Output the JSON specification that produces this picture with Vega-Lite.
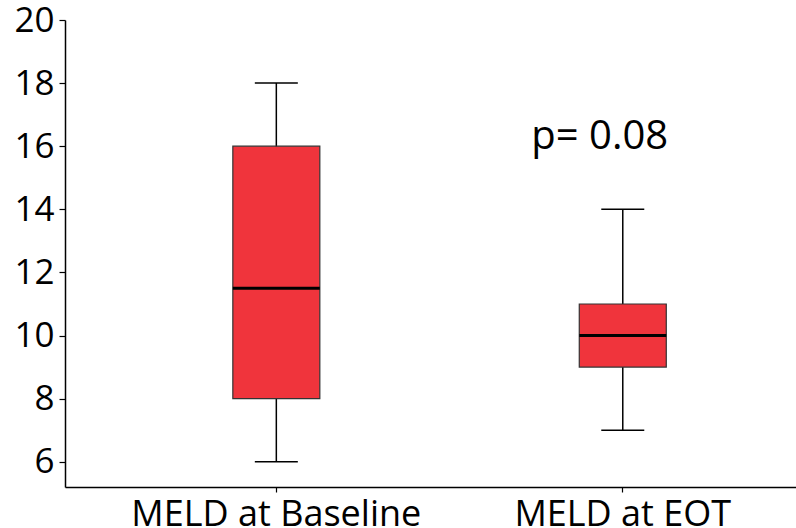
{
  "$schema": "https://vega.github.io/schema/vega-lite/v6.json",
  "width": 731,
  "height": 467,
  "autosize": {"type": "none"},
  "padding": {"left": 65, "top": 20, "right": 0, "bottom": 41},
  "background": "white",
  "config": {
    "view": {"stroke": null},
    "font": "Open Sans",
    "axis": {"grid": false, "domainColor": "#000000", "domainWidth": 1.5, "tickColor": "#000000", "tickWidth": 1.2, "labelColor": "#000000", "labelFont": "Open Sans", "labelLimit": 0, "title": null}
  },
  "datasets": {
    "boxes": [
      {"group": "MELD at Baseline", "lower": 6, "q1": 8, "median": 11.5, "q3": 16, "upper": 18},
      {"group": "MELD at EOT", "lower": 7, "q1": 9, "median": 10, "q3": 11, "upper": 14}
    ],
    "notes": [
      {"group": "MELD at EOT", "y": 16.3, "label": "p= 0.08"}
    ]
  },
  "encoding": {
    "x": {
      "field": "group", "type": "nominal", "sort": null,
      "scale": {"paddingInner": 0, "paddingOuter": 0.055, "align": 1},
      "axis": {"labelAngle": 0, "tickSize": 5, "labelFontSize": 36, "labelPadding": 33, "labelBaseline": "alphabetic"}
    }
  },
  "layer": [
    {
      "data": {"name": "boxes"},
      "mark": {"type": "rule", "color": "#000000", "strokeWidth": 1.5},
      "encoding": {
        "y": {"field": "lower", "type": "quantitative", "scale": {"domain": [5.2, 20], "nice": false, "zero": false},
              "axis": {"values": [6, 8, 10, 12, 14, 16, 18, 20], "tickSize": 6, "labelPadding": 5, "labelFontSize": 35}},
        "y2": {"field": "upper"}
      }
    },
    {
      "data": {"name": "boxes"},
      "mark": {"type": "tick", "orient": "horizontal", "color": "#000000", "opacity": 1, "size": 43, "thickness": 1.5},
      "encoding": {"y": {"field": "lower", "type": "quantitative"}}
    },
    {
      "data": {"name": "boxes"},
      "mark": {"type": "tick", "orient": "horizontal", "color": "#000000", "opacity": 1, "size": 43, "thickness": 1.5},
      "encoding": {"y": {"field": "upper", "type": "quantitative"}}
    },
    {
      "data": {"name": "boxes"},
      "mark": {"type": "bar", "size": 87, "fill": "#F0343C", "opacity": 1, "stroke": "#333333", "strokeWidth": 1.2},
      "encoding": {
        "y": {"field": "q1", "type": "quantitative"},
        "y2": {"field": "q3"}
      }
    },
    {
      "data": {"name": "boxes"},
      "mark": {"type": "tick", "orient": "horizontal", "color": "#000000", "opacity": 1, "size": 87, "thickness": 3},
      "encoding": {"y": {"field": "median", "type": "quantitative"}}
    },
    {
      "data": {"name": "notes"},
      "mark": {"type": "text", "fontSize": 40, "font": "Open Sans", "color": "#000000", "dx": -23, "baseline": "middle", "align": "center"},
      "encoding": {
        "y": {"field": "y", "type": "quantitative"},
        "text": {"field": "label"}
      }
    }
  ]
}
